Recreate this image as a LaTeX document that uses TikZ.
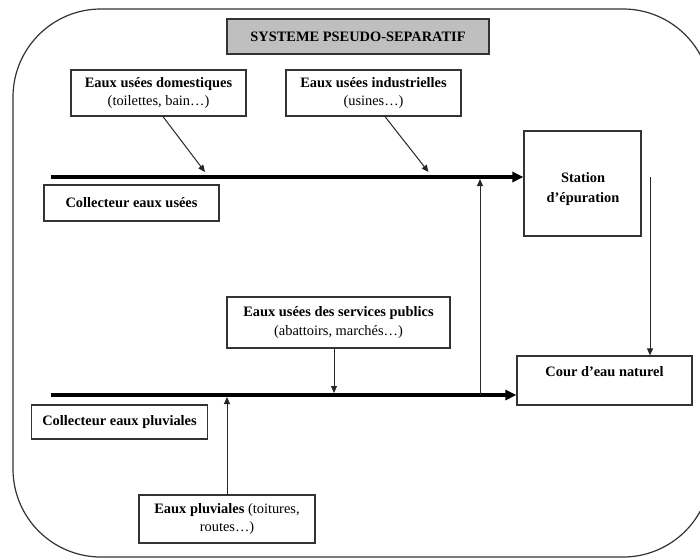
\documentclass[tikz,border=0pt]{standalone}
\usepackage{fontspec}
\setmainfont{Liberation Serif}
\usetikzlibrary{arrows.meta}

\tikzset{
  frame/.style={draw=black!80, line width=1.2pt, inner sep=0pt, align=center,
    font=\fontsize{14.4}{18.5}\selectfont},
  titlebox/.style={frame, fill=black!25},
  lbl/.style={inner sep=0pt, align=center, font=\fontsize{14.4}{20}\selectfont\bfseries},
  collector/.style={line width=3.6pt, -{Triangle[length=11pt, width=10pt]}},
  feed/.style={draw=black!85, line width=1pt, -{Triangle[length=7pt, width=6pt]}},
}

\begin{document}
\begin{tikzpicture}[x=1pt, y=-1pt]
\useasboundingbox (0,0) rectangle (700,558);
\clip (0,0) rectangle (700,558);

% outer rounded frame
\draw[black!80, line width=1.2pt, rounded corners=88pt] (13,9) rectangle (711,557);

% boxes
\node[titlebox, minimum width=262pt, minimum height=35pt] (title) at (358,36.5)
  {\bfseries SYSTEME PSEUDO-SEPARATIF};
\node[frame, minimum width=175pt, minimum height=46pt] (dom) at (158.5,93)
  {\textbf{Eaux usées domestiques}\\(toilettes, bain…)};
\node[frame, minimum width=175pt, minimum height=46pt] (ind) at (373.5,93)
  {\textbf{Eaux usées industrielles}\\(usines…)};
\node[frame, minimum width=117pt, minimum height=105pt] (station) at (582.5,183.5) {};
\node[lbl] (stationtxt) at (583,189) {Station\\d’épuration};
\node[frame, minimum width=175pt, minimum height=36pt] (colU) at (131.5,203)
  {\textbf{Collecteur eaux usées}};
\node[frame, minimum width=223pt, minimum height=51pt] (pub) at (338.5,322.5)
  {\textbf{Eaux usées des services publics}\\(abattoirs, marchés…)};
\node[frame, minimum width=175pt, minimum height=49pt] (cour) at (604.5,380.5) {};
\node[lbl] (courtxt) at (604.5,372) {Cour d’eau naturel};
\node[frame, minimum width=176pt, minimum height=34pt] (colP) at (119.5,422)
  {\textbf{Collecteur eaux pluviales}};
\node[frame, minimum width=176pt, minimum height=48pt] (pluv) at (227,519)
  {\textbf{Eaux pluviales} (toitures,\\routes…)};

% collector lines
\coordinate (u0) at (51,177);
\coordinate (p0) at (51,395);
\draw[collector] (u0) -- (u0 -| station.west);
\draw[collector] (p0) -- (p0 -| cour.west);

% inflows to the sewage collector
\coordinate (d1) at (205,172);
\coordinate (i1) at (428.5,172);
\draw[feed] ([xshift=4.5pt]dom.south) -- (d1);
\draw[feed] ([xshift=11.5pt]ind.south) -- (i1);

% overflow link from storm collector to sewage collector
\coordinate (j0) at (480,395);
\draw[feed, shorten >=2pt] (j0) -- (j0 |- u0);

% treated water to the river
\coordinate (s1) at (650,177);
\draw[feed] (s1) -- (s1 |- cour.north);

% public services and rain inflows to the storm collector
\draw[feed, shorten >=2pt] ([xshift=-4.5pt]pub.south) -- ([xshift=-4.5pt]pub.south |- p0);
\draw[feed, shorten >=2pt] (pluv.north) -- (pluv.north |- p0);
\end{tikzpicture}
\end{document}
